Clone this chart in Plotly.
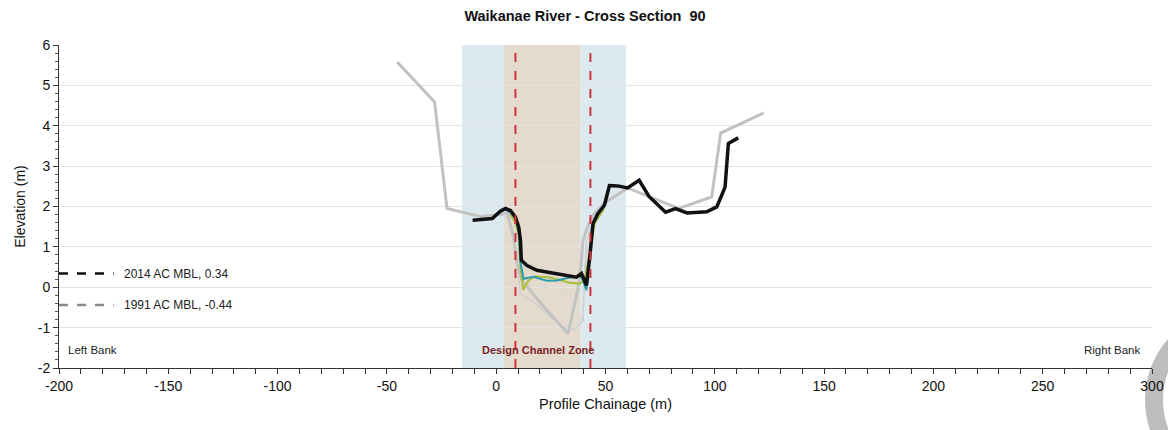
import plotly.graph_objects as go

# 2014 survey (black)
x_2014 = [-10.8, -1.8, 2.0, 4.3, 6.5, 8.8, 10.3, 11.1, 11.5, 14.1, 18.6, 23.1, 27.7, 33.7, 36.7, 39.0,
          41.3, 42.8, 44.3, 46.5, 49.5, 51.8, 55.6, 60.1, 65.4, 69.9, 77.5, 82.0, 87.3, 96.3, 100.9,
          104.7, 106.2, 110.7]
y_2014 = [1.66, 1.70, 1.89, 1.95, 1.90, 1.74, 1.49, 1.16, 0.67, 0.54, 0.42, 0.38, 0.34, 0.27, 0.25, 0.34,
          0.05, 0.75, 1.58, 1.82, 2.03, 2.52, 2.51, 2.46, 2.65, 2.25, 1.86, 1.95, 1.84, 1.87, 1.99,
          2.48, 3.56, 3.70]

# 1991 survey (light grey)
x_1991 = [-45.3, -28.2, -22.5, -7.1, 2.0, 5.0, 7.9, 9.5, 11.8, 22.0, 32.9, 38.2, 39.7, 41.8, 44.5, 49.5,
          60.1, 83.5, 98.6, 102.7, 122.4]
y_1991 = [5.58, 4.59, 1.95, 1.75, 1.80, 1.85, 1.25, 0.60, 0.17, -0.50, -1.15, 0.17, 1.16, 1.50, 1.80, 2.08,
          2.46, 1.95, 2.24, 3.82, 4.32]

# intermediate surveys
x_teal = [-1.8, 2.0, 4.3, 6.5, 8.8, 10.3, 11.1, 12.5, 17.1, 23.1, 27.7, 33.7, 39.0, 41.3, 42.0, 44.3, 46.5]
y_teal = [1.70, 1.87, 1.93, 1.85, 1.70, 1.40, 0.63, 0.21, 0.26, 0.16, 0.17, 0.24, 0.27, -0.07, 0.34, 1.58, 1.85]
x_green = [6.5, 8.8, 10.3, 11.1, 12.3, 14.8, 17.8, 24.6, 33.7, 38.2, 40.5, 42.0, 45.0, 48.8, 51.0]
y_green = [1.80, 1.60, 1.30, 0.50, -0.06, 0.17, 0.27, 0.24, 0.11, 0.09, 0.17, 0.67, 1.58, 1.90, 2.30]
x_grey2 = [5.5, 7.9, 11.0, 15.6, 22.0, 30.5, 36.0, 39.6, 41.3, 44.0]
y_grey2 = [1.80, 1.25, -0.15, -0.30, -0.60, -1.00, -1.05, -0.82, 1.16, 1.60]
x_grey3 = [10.0, 12.5, 20.0, 30.5, 35.0, 39.6, 40.5, 42.0]
y_grey3 = [1.0, 0.10, 0.02, -0.07, -0.30, -0.82, 0.40, 1.20]

# zones and mean bed levels
blue_zone = [-15.7, 59.4]
channel_zone = [3.6, 38.4]
design_lines = [8.8, 43.1]
mbl_names = ["2014 AC MBL, 0.34", "1991 AC MBL, -0.44"]
mbl_values = [0.34, -0.44]
mbl_colors = ["#111111", "#8a8a8a"]

x_ticks = [-200, -150, -100, -50, 0, 50, 100, 150, 200, 250, 300]
y_ticks = [-2, -1, 0, 1, 2, 3, 4, 5, 6]

fig = go.Figure()

# background zones
fig.add_vrect(x0=blue_zone[0], x1=blue_zone[1], fillcolor="#dceaef", line_width=0, layer="below")
fig.add_vrect(x0=channel_zone[0], x1=channel_zone[1], fillcolor="#e5dace", line_width=0, layer="below")

fig.add_trace(go.Scatter(x=x_grey3, y=y_grey3, mode="lines", line=dict(color="#d4d4d4", width=1.5, dash="dash")))
fig.add_trace(go.Scatter(x=x_grey2, y=y_grey2, mode="lines", line=dict(color="#cfcfcf", width=1.5)))
fig.add_trace(go.Scatter(x=x_1991, y=y_1991, mode="lines", line=dict(color="#c2c2c2", width=3)))
fig.add_trace(go.Scatter(x=x_green, y=y_green, mode="lines", line=dict(color="#a9bf35", width=2)))
fig.add_trace(go.Scatter(x=x_teal, y=y_teal, mode="lines", line=dict(color="#2a9db0", width=2)))
fig.add_trace(go.Scatter(x=x_2014, y=y_2014, mode="lines", line=dict(color="#111111", width=3.5)))

# design channel edges
for xv in design_lines:
    fig.add_vline(x=xv, line=dict(color="#d0343a", width=2, dash="dash"))

# mean bed level markers at left
for name, val, col in zip(mbl_names, mbl_values, mbl_colors):
    fig.add_trace(go.Scatter(x=[-200, -175], y=[val, val], mode="lines",
                             line=dict(color=col, width=2.5, dash="dash")))
    fig.add_annotation(x=-171, y=val, text=name, showarrow=False, xanchor="left",
                       font=dict(size=12, color="#222222"))

fig.add_annotation(x=-197, y=-1.55, text="Left Bank", showarrow=False, xanchor="left",
                   font=dict(size=11.5, color="#222222"))
fig.add_annotation(x=296, y=-1.55, text="Right Bank", showarrow=False, xanchor="right",
                   font=dict(size=11.5, color="#222222"))
fig.add_annotation(x=19, y=-1.55, text="<b>Design Channel Zone</b>", showarrow=False,
                   font=dict(size=11, color="#7a1f24"))

# grey ring at bottom right corner (drawn under the axes)
fig.add_shape(type="circle", xref="paper", yref="paper", layer="below",
              x0=(1160 - 54) / 1104, x1=(1326 - 54) / 1104,
              y0=(368 - 483) / 323, y1=(368 - 317) / 323,
              line=dict(color="#bdbdbd", width=18))

# page body has an 8px margin, so the figure is sized to fit inside it
fig.update_layout(
    width=1168, height=422,
    margin=dict(l=46, r=18, t=37, b=62),
    showlegend=False,
    plot_bgcolor="rgba(0,0,0,0)", paper_bgcolor="white",
    font=dict(family="Liberation Sans, Arial", color="#111111"),
    title=dict(text="<b>Waikanae River - Cross Section  90</b>", x=577 / 1168, xanchor="center",
               y=1 - 8 / 422, yanchor="middle", font=dict(size=14.5, color="#111111")),
)
fig.update_xaxes(range=[-200, 300], tickvals=x_ticks, ticktext=[str(v) for v in x_ticks],
                 showgrid=False, zeroline=False,
                 showline=True, linecolor="#333333", linewidth=1,
                 ticks="outside", ticklen=5, tickcolor="#333333", tickfont=dict(size=14, color="#111111"),
                 minor=dict(dtick=10, ticks="outside", ticklen=5, tickcolor="#333333"),
                 title=dict(text="Profile Chainage (m)", font=dict(size=14.5, color="#111111"), standoff=6))
fig.update_yaxes(range=[-2, 6], tickvals=y_ticks, ticktext=[str(v) for v in y_ticks],
                 showgrid=True, gridcolor="#e3e3e3", zeroline=False,
                 showline=True, linecolor="#333333", linewidth=1,
                 ticks="outside", ticklen=5, tickcolor="#333333", tickfont=dict(size=14, color="#111111"),
                 minor=dict(dtick=0.2, ticks="outside", ticklen=3, tickcolor="#555555"),
                 title=dict(text="Elevation (m)", font=dict(size=14, color="#111111"), standoff=8))

fig.write_html("out.html")
